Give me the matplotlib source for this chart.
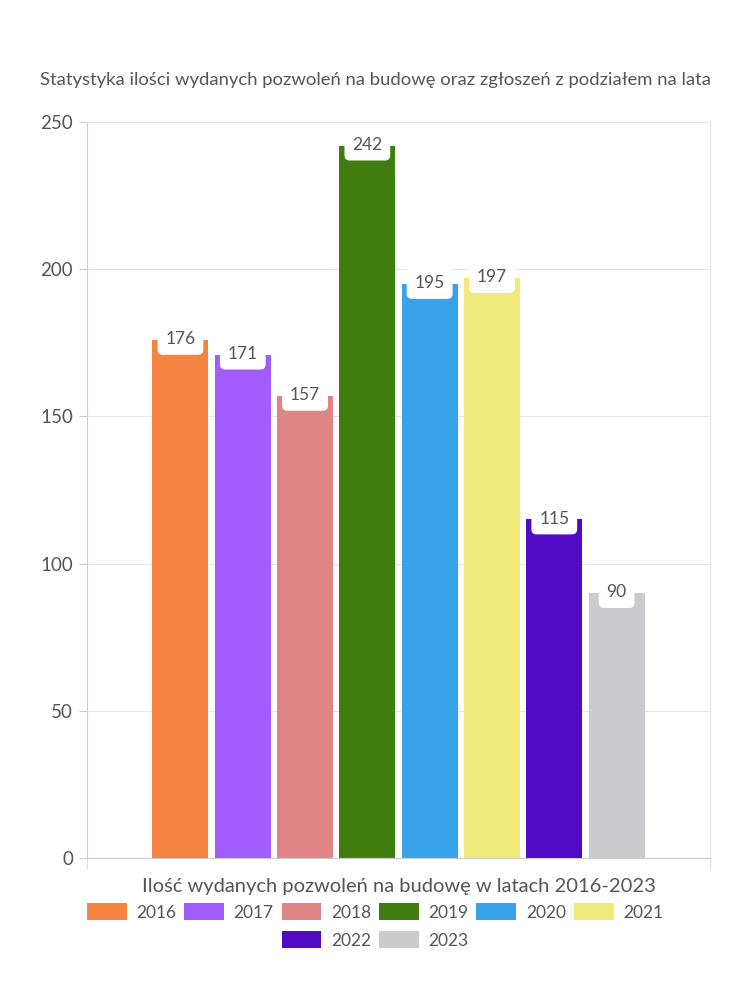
import matplotlib.pyplot as plt
from matplotlib.patches import Patch

years = ["2016", "2017", "2018", "2019", "2020", "2021", "2022", "2023"]
values = [176, 171, 157, 242, 195, 197, 115, 90]
colors = ["#F58442", "#A25BFD", "#E08585", "#3E7D0E",
          "#38A3EA", "#F0EA7D", "#520BC2", "#CBCBCF"]
y_ticks = [0, 50, 100, 150, 200, 250]

TITLE = "Statystyka ilości wydanych pozwoleń na budowę oraz zgłoszeń z podziałem na lata"
XLABEL = "Ilość wydanych pozwoleń na budowę w latach 2016-2023"

TEXT_COLOR = "#555555"
plt.rcParams["font.family"] = ["Lato", "DejaVu Sans"]

fig = plt.figure(figsize=(7.5, 10), dpi=100)
ax = fig.add_axes([0.116, 0.142, 0.8307, 0.736])

step = 0.1
n = len(years)
for i, (yr, val, col) in enumerate(zip(years, values, colors)):
    x = (i - (n - 1) / 2) * step
    ax.bar(x, val, width=0.09, color=col, zorder=2)
    ax.text(x, val + 0.3, str(val), ha="center", va="center", fontsize=12.5,
            color=TEXT_COLOR, zorder=3,
            bbox=dict(boxstyle="round,pad=0.45,rounding_size=0.3",
                      facecolor="white", edgecolor="none"))

ax.set_xlim(-0.5, 0.5)
ax.set_ylim(0, 250)
ax.set_yticks(y_ticks)
ax.set_yticklabels([str(t) for t in y_ticks], fontsize=13.5, color=TEXT_COLOR)
ax.set_xticks([-0.5, 0.5])
ax.set_xticklabels(["", ""])
ax.tick_params(axis="y", length=6, color="#cccccc", width=0.8, pad=4)
ax.tick_params(axis="x", length=8, color="#e0e0e0", width=0.8)
ax.grid(axis="y", color="#e6e6e6", linewidth=0.8, zorder=0)
ax.set_axisbelow(True)

for side in ["left", "bottom"]:
    ax.spines[side].set_color("#cccccc")
    ax.spines[side].set_linewidth(0.8)
ax.spines["top"].set_color("#e6e6e6")
ax.spines["top"].set_linewidth(0.8)
ax.spines["right"].set_color("#e6e6e6")
ax.spines["right"].set_linewidth(0.8)

ax.set_xlabel(XLABEL, fontsize=14.5, color=TEXT_COLOR, labelpad=3)
fig.text(0.5, 0.92, TITLE, ha="center", va="center", fontsize=13.3,
         color=TEXT_COLOR)

handles = [Patch(facecolor=c, edgecolor="none") for c in colors]
leg_kw = dict(frameon=False, fontsize=12.5, handlelength=2.3, handleheight=1.1,
              handletextpad=0.55, columnspacing=0.45, labelcolor=TEXT_COLOR)
fig.legend(handles[:6], years[:6], ncol=6, loc="center",
           bbox_to_anchor=(0.5, 0.088), **leg_kw)
fig.legend(handles[6:], years[6:], ncol=2, loc="center",
           bbox_to_anchor=(0.5, 0.06), **leg_kw)

fig.savefig("out.png", dpi=100)
